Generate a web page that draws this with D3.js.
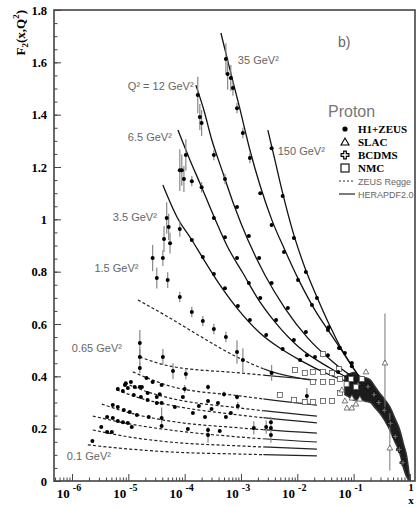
<!DOCTYPE html>
<html><head><meta charset="utf-8">
<script src="https://cdn.jsdelivr.net/npm/d3@7"></script>
<style>body{margin:0;background:#fff}svg{display:block}</style>
</head><body>
<svg id="c" width="416" height="508"></svg>
<script>
// ---------------- DATA ----------------
const yTicks = [0,0.2,0.4,0.6,0.8,1,1.2,1.4,1.6,1.8];
const yTickLabels = ["0","0.2","0.4","0.6","0.8","1","1.2","1.4","1.6","1.8"];
const xTicks = [1e-6,1e-5,1e-4,1e-3,1e-2,1e-1];
const xTickBase = ["10","10","10","10","10","10"];
const xTickExp = ["-6","-5","-4","-3","-2","-1"];

// HERAPDF2.0 curves [x, F2]
const herapdf150 = [[3.0e-3,1.341],[4.0e-3,1.227],[5.5e-3,1.100],[8.4e-3,0.951],[0.0137,0.814],[0.0223,0.703],[0.038,0.592],[0.062,0.501],[0.093,0.439],[0.140,0.386]];
const herapdf35 = [[4.4e-4,1.712],[6.4e-4,1.570],[9.5e-4,1.425],[1.44e-3,1.265],[2.17e-3,1.131],[3.54e-3,0.997],[6.0e-3,0.883],[0.0111,0.760],[0.0206,0.653],[0.0379,0.566],[0.070,0.481],[0.129,0.394]];
const herapdf12 = [[1.58e-4,1.513],[2.19e-4,1.418],[3.04e-4,1.303],[4.6e-4,1.188],[7.5e-4,1.055],[1.33e-3,0.921],[2.66e-3,0.787],[6.0e-3,0.661],[0.0154,0.546],[0.043,0.455],[0.129,0.378]];
const herapdf6p5 = [[7.6e-5,1.341],[1.24e-4,1.227],[1.86e-4,1.139],[3.4e-4,1.005],[5.8e-4,0.894],[1.08e-3,0.795],[1.91e-3,0.703],[4.0e-3,0.608],[0.0111,0.508],[0.038,0.432],[0.129,0.371]];
const herapdf3p5 = [[4.1e-5,1.131],[7.3e-5,1.009],[1.34e-4,0.921],[2.1e-4,0.852],[3.7e-4,0.768],[8.5e-4,0.661],[2.17e-3,0.566],[4.9e-3,0.508],[0.0111,0.462],[0.038,0.405],[0.129,0.363]];

// ZEUS Regge curves [x, F2]
const regge1p5 = [[1.48e-5,0.692],[5.46e-5,0.623],[1.86e-4,0.554],[8.45e-4,0.474],[3.26e-3,0.420],[0.0167,0.386]];
const regge0p65 = [[1.6e-5,0.474],[5.46e-5,0.439],[9.55e-4,0.413],[0.0223,0.386]];
const regge0p5 = [[1.2e-5,0.417],[2.41e-5,0.390],[5.46e-5,0.363],[9.55e-4,0.325],[0.0223,0.290]];
const regge0p4 = [[8.67e-6,0.374],[1.96e-5,0.344],[5.46e-5,0.317],[9.55e-4,0.279],[0.0223,0.248]];
const regge0p3 = [[6.25e-6,0.348],[1.6e-5,0.317],[5.46e-5,0.290],[9.55e-4,0.252],[0.0223,0.222]];
const regge0p25 = [[3.38e-6,0.294],[1.06e-5,0.260],[5.46e-5,0.229],[9.55e-4,0.203],[0.0223,0.183]];
const regge0p2 = [[2.34e-6,0.248],[1.06e-5,0.218],[5.46e-5,0.195],[9.55e-4,0.168],[0.0223,0.149]];
const regge0p15 = [[2.34e-6,0.195],[1.06e-5,0.168],[5.46e-5,0.149],[9.55e-4,0.134],[0.0223,0.122]];
const regge0p1 = [[1.91e-6,0.138],[1.06e-5,0.122],[5.46e-5,0.111],[9.55e-4,0.103],[0.0223,0.096]];

// H1+ZEUS points [x, F2, err]
const h1zeus = [
 [3.5e-3,1.272,0],[5.5e-3,1.089,0],[8.7e-3,0.929,0],[0.0142,0.799,0],[0.0223,0.699,0],[0.036,0.588,0],[0.057,0.508,0],[0.093,0.439,0],
 [5.4e-4,1.613,0.06],[5.8e-4,1.555,0.06],[6.6e-4,1.540,0.05],[7.2e-4,1.502,0.03],[8.5e-4,1.425,0.02],[1.08e-3,1.330,0.02],[1.44e-3,1.234,0.02],[2.2e-3,1.100,0],[3.5e-3,0.978,0],[5.8e-3,0.875,0],[0.0103,0.768,0],[0.0182,0.673,0],[0.035,0.577,0],[0.070,0.489,0],
 [1.71e-4,1.475,0.07],[1.86e-4,1.391,0.05],[2.0e-4,1.368,0.05],[3.3e-4,1.246,0.02],[5.2e-4,1.154,0.02],[8.5e-4,1.047,0],[1.38e-3,0.936,0],[2.1e-3,0.852,0],[3.5e-3,0.757,0],[6.8e-3,0.661,0],[0.0142,0.569,0],[0.035,0.481,0],
 [8.2e-5,1.188,0.08],[8.9e-5,1.188,0.06],[9.7e-5,1.154,0.05],[1.05e-4,1.246,0.06],[1.34e-4,1.146,0.02],[2.0e-4,1.123,0.02],[3.3e-4,1.005,0],[5.2e-4,0.932,0],[8.5e-4,0.852,0],[1.38e-3,0.757,0],[2.2e-3,0.699,0],[4.2e-3,0.615,0],[8.7e-3,0.539,0],[0.0206,0.474,0],[0.053,0.417,0],
 [4.3e-5,0.925,0.05],[4.8e-5,1.005,0.06],[5.2e-5,0.971,0.05],[5.5e-5,0.909,0.04],[8.2e-5,0.963,0.03],[1.34e-4,0.921,0],[2.1e-4,0.856,0],[3.3e-4,0.791,0],[5.2e-4,0.737,0],[8.8e-4,0.669,0],[1.44e-3,0.615,0],[2.8e-3,0.558,0],[5.5e-3,0.504,0],[0.0112,0.462,0],
 [2.7e-5,0.852,0.05],[3.2e-5,0.776,0.04],[4.1e-5,0.852,0.03],[5.0e-5,0.768,0.03],[8.2e-5,0.703,0.02],[1.34e-4,0.646,0.02],[2.1e-4,0.611,0.02],[3.3e-4,0.581,0.02],[5.4e-4,0.550,0.02],[8.5e-4,0.493,0.045],[1.08e-3,0.462,0.045],[3.5e-3,0.413,0.03],
 [1.6e-5,0.527,0.05],[1.6e-5,0.474,0.03],[1.6e-5,0.432,0.02],[4.1e-5,0.474,0.03],[6.2e-5,0.420,0.03],[1.05e-4,0.409,0.02],[2.6e-4,0.359,0.01],[5.0e-4,0.332,0.01],[8.5e-4,0.321,0.01],[0.0148,0.325,0.03],
 [6.5e-6,0.352,0],[8.0e-6,0.344,0],[8.7e-6,0.367,0],[9.8e-6,0.355,0],[1.11e-5,0.378,0],[1.30e-5,0.359,0],[1.6e-5,0.359,0],[1.25e-5,0.329,0],[1.67e-5,0.321,0],[2.2e-5,0.336,0],[3.2e-5,0.321,0],[3.6e-5,0.332,0],[3.9e-5,0.298,0],[6.7e-5,0.283,0],[9.3e-5,0.321,0],[1.0e-4,0.352,0.015],[1.79e-4,0.287,0],[2.6e-4,0.306,0],[3.0e-4,0.275,0],[3.9e-4,0.298,0],[6.6e-4,0.260,0],[8.8e-4,0.287,0.015],
 [2.2e-5,0.310,0],[3.2e-5,0.298,0],
 [5.3e-6,0.290,0],[6.5e-6,0.283,0],[8.3e-6,0.271,0],[1.06e-5,0.264,0],[1.42e-5,0.252,0],[2.3e-5,0.245,0],[3.9e-5,0.241,0.04],[3.9e-5,0.210,0],[1.14e-4,0.199,0],[1.40e-4,0.260,0],[2.3e-4,0.245,0],[2.6e-4,0.195,0],[2.6e-4,0.176,0.03],[4.2e-4,0.191,0],[5.4e-4,0.245,0],[1.69e-3,0.203,0.025],[2.8e-3,0.206,0.025],[3.4e-3,0.225,0.02],[3.4e-3,0.203,0],[3.4e-3,0.176,0.03],
 [4.2e-6,0.245,0],[5.3e-6,0.241,0],[6.5e-6,0.229,0],[8.0e-6,0.225,0],[9.8e-6,0.222,0],[1.15e-5,0.206,0],[3.3e-6,0.206,0],[4.2e-6,0.187,0],[5.1e-6,0.187,0],[2.3e-6,0.153,0],
 [9.0e-6,0.374,0],[1.74e-5,0.359,0],[2.7e-5,0.378,0],[3.9e-5,0.367,0],[2.1e-5,0.394,0],
 [0.0148,0.481,0],[0.055,0.508,0],[0.093,0.451,0]
];

// NMC [x, F2]
const nmc = [[9.1e-3,0.424],[0.0136,0.413],[4.9e-3,0.329],[8.7e-3,0.310],[0.0136,0.302],[0.0285,0.485],[0.0189,0.417],[0.0285,0.417],[0.0412,0.413],[0.0548,0.428],[0.0189,0.378],[0.0285,0.378],[0.0412,0.378],[0.0571,0.390],[0.0189,0.302],[0.0285,0.306],[0.0412,0.306],[0.0571,0.336],[0.075,0.37],[0.09,0.39],[0.11,0.36],[0.14,0.39]];
// SLAC [x, F2, lo, hi]
const slac = [[0.36,0.451,0.26,0.64],[0.44,0.126,0.04,0.26],[0.076,0.279,0.279,0.279],[0.093,0.279,0.279,0.279],[0.070,0.306,0.306,0.306],[0.11,0.294,0.294,0.294],[0.093,0.317,0.317,0.317],[0.129,0.313,0.313,0.313],[0.166,0.417,0.417,0.417],[0.062,0.348,0.348,0.348]];
// BCDMS [x, F2]
const bcdms = [[0.12,0.37],[0.18,0.36],[0.23,0.33],[0.28,0.30],[0.35,0.27],[0.45,0.22],[0.55,0.17],[0.65,0.12],[0.75,0.07]];
// fixed-target data cloud envelope [x, upper, lower]
const cloud = [[0.07,0.40,0.33],[0.085,0.41,0.32],[0.1,0.415,0.31],[0.13,0.40,0.31],[0.16,0.395,0.305],[0.2,0.385,0.30],[0.24,0.36,0.28],[0.29,0.336,0.26],[0.36,0.31,0.23],[0.44,0.283,0.195],[0.54,0.24,0.15],[0.66,0.195,0.107],[0.77,0.14,0.05],[0.88,0.092,0.015],[1.0,0.0,0.0]];

// Q2 labels [text, x, F2]
const q2Labels = [["35 GeV²",8.8e-4,1.593],["Q² = 12 GeV²",9.8e-6,1.494],["6.5 GeV²",9.8e-6,1.299],["150 GeV²",4.5e-3,1.246],["3.5 GeV²",5.3e-6,0.994],["1.5 GeV²",2.5e-6,0.799],["0.65 GeV²",9.9e-7,0.493],["0.1 GeV²",8.1e-7,0.080]];

// ---------------- DRAW ----------------
const svg = d3.select("#c");
const L=54, T=10, R=415, B=481;
const x = d3.scaleLog().domain([Math.pow(10,-6.32), Math.pow(10,0.09)]).range([L,R]);
const y = d3.scaleLinear().domain([0,1.8]).range([B,T]);
const serif = "'Liberation Serif','Times New Roman',serif";
const sans = "'Liberation Sans',Arial,sans-serif";

const defs = svg.append("defs");
defs.append("clipPath").attr("id","plot").append("rect").attr("x",L).attr("y",T).attr("width",R-L).attr("height",B-T);
const thr = 2.5e-3;
defs.append("clipPath").attr("id","left").append("rect").attr("x",L).attr("y",T).attr("width",x(thr)-L).attr("height",B-T);
defs.append("clipPath").attr("id","right").append("rect").attr("x",x(thr)).attr("y",T).attr("width",R-x(thr)).attr("height",B-T);

const g = svg.append("g").attr("clip-path","url(#plot)");
const line = d3.line().x(d=>x(d[0])).y(d=>y(d[1])).curve(d3.curveMonotoneX);

// cloud
g.append("path").datum(cloud)
 .attr("d", d3.area().x(d=>x(d[0])).y0(d=>y(d[2])).y1(d=>y(d[1])).curve(d3.curveMonotoneX))
 .attr("fill","#1c1c1c").attr("stroke","#333").attr("stroke-width",1.5);

// Regge curves
const regge=[regge1p5,regge0p65,regge0p5,regge0p4,regge0p3,regge0p25,regge0p2,regge0p15,regge0p1];
regge.forEach(c=>{
  g.append("path").attr("d",line(c)).attr("fill","none").attr("stroke","#222").attr("stroke-width",1.2)
   .attr("stroke-dasharray","3,2.2").attr("clip-path","url(#left)");
  g.append("path").attr("d",line(c)).attr("fill","none").attr("stroke","#222").attr("stroke-width",1.2)
   .attr("clip-path","url(#right)");
});
// HERAPDF
[herapdf150,herapdf35,herapdf12,herapdf6p5,herapdf3p5].forEach(c=>{
  g.append("path").attr("d",line(c)).attr("fill","none").attr("stroke","#111").attr("stroke-width",1.3);
});

// error bars
g.selectAll(".eb").data(h1zeus.filter(d=>d[2]>0)).join("line")
 .attr("x1",d=>x(d[0])).attr("x2",d=>x(d[0]))
 .attr("y1",d=>y(d[1]-d[2])).attr("y2",d=>y(d[1]+d[2]))
 .attr("stroke","#888").attr("stroke-width",1.2);
g.selectAll(".eb2").data(slac.filter(d=>d[3]>d[2])).join("line")
 .attr("x1",d=>x(d[0])).attr("x2",d=>x(d[0]))
 .attr("y1",d=>y(d[2])).attr("y2",d=>y(d[3]))
 .attr("stroke","#777").attr("stroke-width",1);

// BCDMS crosses
const crossPath = "M-1,-3H1V-1H3V1H1V3H-1V1H-3V-1H-1Z";
g.selectAll(".bc").data(bcdms).join("path")
 .attr("transform",d=>`translate(${x(d[0])},${y(d[1])})`).attr("d",crossPath)
 .attr("fill","#666").attr("stroke","#000").attr("stroke-width",0.7);
// NMC squares
g.selectAll(".nm").data(nmc).join("rect")
 .attr("x",d=>x(d[0])-2.5).attr("y",d=>y(d[1])-2.5).attr("width",5).attr("height",5)
 .attr("fill","#fff").attr("stroke","#555").attr("stroke-width",0.8);
// SLAC triangles
g.selectAll(".sl").data(slac).join("path")
 .attr("transform",d=>`translate(${x(d[0])},${y(d[1])})`).attr("d","M0,-3L2.8,2L-2.8,2Z")
 .attr("fill","#fff").attr("stroke","#555").attr("stroke-width",0.8);
// H1+ZEUS
g.selectAll(".hz").data(h1zeus).join("circle")
 .attr("cx",d=>x(d[0])).attr("cy",d=>y(d[1])).attr("r",2).attr("fill","#000");

// axes
svg.append("g").attr("transform",`translate(0,${B})`)
 .call(d3.axisBottom(x).tickValues(xTicks.concat([1])).tickSize(-7).tickSizeOuter(0).tickFormat(""));
const minor=[];
for(let e=-7;e<=0;e++) for(let k=2;k<=9;k++){const v=k*Math.pow(10,e); if(v>x.domain()[0]&&v<1) minor.push(v);}
svg.append("g").attr("transform",`translate(0,${B})`)
 .call(d3.axisBottom(x).tickValues(minor).tickSize(-3.5).tickSizeOuter(0).tickFormat(""));
svg.append("g").attr("transform",`translate(${L},0)`)
 .call(d3.axisLeft(y).tickValues(yTicks).tickSize(-7).tickSizeOuter(0).tickFormat(""));
const yMinor = d3.range(0,1.8001,0.05);
svg.append("g").attr("transform",`translate(${L},0)`)
 .call(d3.axisLeft(y).tickValues(yMinor).tickSize(-3.5).tickSizeOuter(0).tickFormat(""));
svg.selectAll(".tick line").attr("stroke","#444");
svg.selectAll(".domain").attr("stroke","none");

// frame
svg.append("rect").attr("x",L).attr("y",T).attr("width",R-L).attr("height",B-T)
 .attr("fill","none").attr("stroke","#444").attr("stroke-width",1.6);

// tick labels
svg.append("g").selectAll("text").data(yTicks).join("text")
 .attr("x",47).attr("y",d=>y(d)+4.5).attr("text-anchor","end")
 .attr("font-family",serif).attr("font-weight","bold").attr("font-size",12.5)
 .text((d,i)=>yTickLabels[i]);
const xl = svg.append("g").selectAll("text").data(xTicks).join("text")
 .attr("x",d=>x(d)-3).attr("y",498).attr("text-anchor","middle")
 .attr("font-family",serif).attr("font-weight","bold").attr("font-size",13);
xl.append("tspan").text((d,i)=>xTickBase[i]);
xl.append("tspan").attr("dy",-7).attr("dx",3).attr("font-size",10).text((d,i)=>xTickExp[i]);
svg.append("text").attr("x",x(1)+1).attr("y",491).attr("text-anchor","middle")
 .attr("font-family",serif).attr("font-weight","bold").attr("font-size",11).text("1");
svg.append("text").attr("x",x(1)+1).attr("y",504).attr("text-anchor","middle")
 .attr("font-family",serif).attr("font-weight","bold").attr("font-size",11).text("x");

// y title
const yt = svg.append("text").attr("transform","translate(25,10) rotate(-90)").attr("text-anchor","end")
 .attr("font-family",serif).attr("font-weight","bold").attr("font-size",13);
yt.append("tspan").text("F");
yt.append("tspan").attr("dy",3).attr("font-size",9).text("2");
yt.append("tspan").attr("dy",-3).text("(x,Q");
yt.append("tspan").attr("dy",-6).attr("font-size",9).text("2");
yt.append("tspan").attr("dy",6).text(")");

// Q2 labels
svg.append("g").selectAll("text").data(q2Labels).join("text")
 .attr("x",d=>x(d[1])).attr("y",d=>y(d[2]))
 .attr("font-family",sans).attr("font-size",11).attr("fill","#666").text(d=>d[0]);
svg.append("text").attr("x",x(0.053)).attr("y",y(1.658)).attr("font-family",sans).attr("font-size",14).attr("fill","#666").text("b)");

// legend
const lg = svg.append("g");
lg.append("text").attr("x",328).attr("y",117).attr("font-family",sans).attr("font-size",16).attr("fill","#777").text("Proton");
const lx=345, tx=358;
lg.append("circle").attr("cx",lx).attr("cy",129).attr("r",2.6).attr("fill","#000");
lg.append("path").attr("transform",`translate(${lx},142)`).attr("d","M0,-4L4,3L-4,3Z").attr("fill","#fff").attr("stroke","#000").attr("stroke-width",1.1);
lg.append("path").attr("transform",`translate(${lx},155) scale(1.3)`).attr("d",crossPath).attr("fill","#fff").attr("stroke","#000").attr("stroke-width",0.9);
lg.append("rect").attr("x",lx-4).attr("y",164).attr("width",8).attr("height",8).attr("fill","#fff").attr("stroke","#000").attr("stroke-width",1.1);
lg.append("line").attr("x1",339).attr("x2",355).attr("y1",181).attr("y2",181).attr("stroke","#333").attr("stroke-width",1.2).attr("stroke-dasharray","2,2");
lg.append("line").attr("x1",339).attr("x2",355).attr("y1",194).attr("y2",194).attr("stroke","#333").attr("stroke-width",1.3);
[["H1+ZEUS",129],["SLAC",142],["BCDMS",155],["NMC",168]].forEach(([t,yy])=>{
  lg.append("text").attr("x",tx).attr("y",yy+4).attr("font-family",serif).attr("font-weight","bold").attr("font-size",11).text(t);
});
[["ZEUS Regge",181],["HERAPDF2.0",194]].forEach(([t,yy])=>{
  lg.append("text").attr("x",tx).attr("y",yy+3.5).attr("font-family",sans).attr("font-size",9).attr("fill","#666").text(t);
});
</script>
</body></html>
